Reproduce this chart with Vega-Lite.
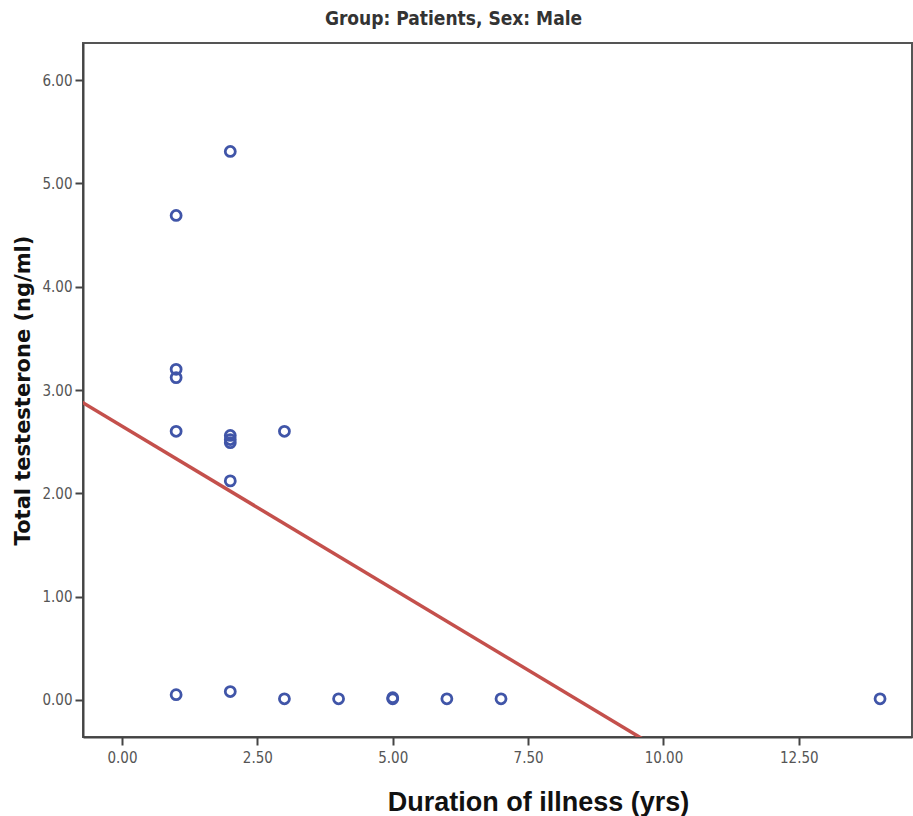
{
  "$schema": "https://vega.github.io/schema/vega-lite/v6.json",
  "autosize": "none",
  "width": 829,
  "height": 694,
  "padding": {"left": 83, "top": 43, "right": 1, "bottom": 79},
  "background": "#ffffff",
  "title": {
    "text": "Group: Patients, Sex: Male",
    "font": "DejaVu Sans Condensed, DejaVu Sans, sans-serif",
    "fontSize": 19,
    "fontWeight": "bold",
    "color": "#333333",
    "anchor": "middle",
    "dx": -44,
    "offset": 14
  },
  "config": {
    "view": {"stroke": "#555555", "strokeWidth": 2},
    "axis": {
      "grid": false,
      "domainColor": "#444444",
      "domainWidth": 2,
      "tickColor": "#444444",
      "tickWidth": 2,
      "tickSize": 8,
      "labelFont": "DejaVu Sans Condensed, DejaVu Sans, sans-serif",
      "labelFontSize": 15,
      "labelColor": "#555555",
      "titleColor": "#111111",
      "titleFontWeight": "bold"
    }
  },
  "layer": [
    {
      "data": {"values": [
        {"duration": 1, "testosterone": 4.69},
        {"duration": 2, "testosterone": 5.31},
        {"duration": 1, "testosterone": 3.20},
        {"duration": 1, "testosterone": 3.12},
        {"duration": 1, "testosterone": 2.60},
        {"duration": 2, "testosterone": 2.56},
        {"duration": 2, "testosterone": 2.52},
        {"duration": 2, "testosterone": 2.49},
        {"duration": 2, "testosterone": 2.12},
        {"duration": 3, "testosterone": 2.60},
        {"duration": 1, "testosterone": 0.05},
        {"duration": 2, "testosterone": 0.08},
        {"duration": 3, "testosterone": 0.01},
        {"duration": 4, "testosterone": 0.01},
        {"duration": 5, "testosterone": 0.01},
        {"duration": 5, "testosterone": 0.02},
        {"duration": 6, "testosterone": 0.01},
        {"duration": 7, "testosterone": 0.01},
        {"duration": 14, "testosterone": 0.01}
      ]},
      "mark": {"type": "point", "shape": "circle", "filled": false, "size": 100, "strokeWidth": 2.8, "color": "#4055a8", "opacity": 1},
      "encoding": {
        "x": {
          "field": "duration", "type": "quantitative",
          "scale": {"domain": [-0.72, 14.59], "nice": false, "zero": false},
          "axis": {
            "title": "Duration of illness (yrs)",
            "values": [0, 2.5, 5, 7.5, 10, 12.5],
            "format": ".2f",
            "titleFont": "Liberation Sans, Arial, sans-serif",
            "titleFontSize": 27,
            "titlePadding": 24,
            "titleX": 455,
            "titleAnchor": "middle",
            "labelPadding": 5
          }
        },
        "y": {
          "field": "testosterone", "type": "quantitative",
          "scale": {"domain": [-0.36, 6.36], "nice": false, "zero": false},
          "axis": {
            "title": "Total testesterone (ng/ml)",
            "values": [0, 1, 2, 3, 4, 5, 6],
            "format": ".2f",
            "titleFont": "DejaVu Sans, Verdana, sans-serif",
            "titleFontSize": 21,
            "titlePadding": 8,
            "labelPadding": 3
          }
        }
      }
    },
    {
      "data": {"values": [
        {"duration": -1, "fit": 2.965},
        {"duration": 10, "fit": -0.50}
      ]},
      "mark": {"type": "line", "color": "#c4504c", "strokeWidth": 3.5, "clip": true},
      "encoding": {
        "x": {"field": "duration", "type": "quantitative"},
        "y": {"field": "fit", "type": "quantitative"}
      }
    }
  ]
}
